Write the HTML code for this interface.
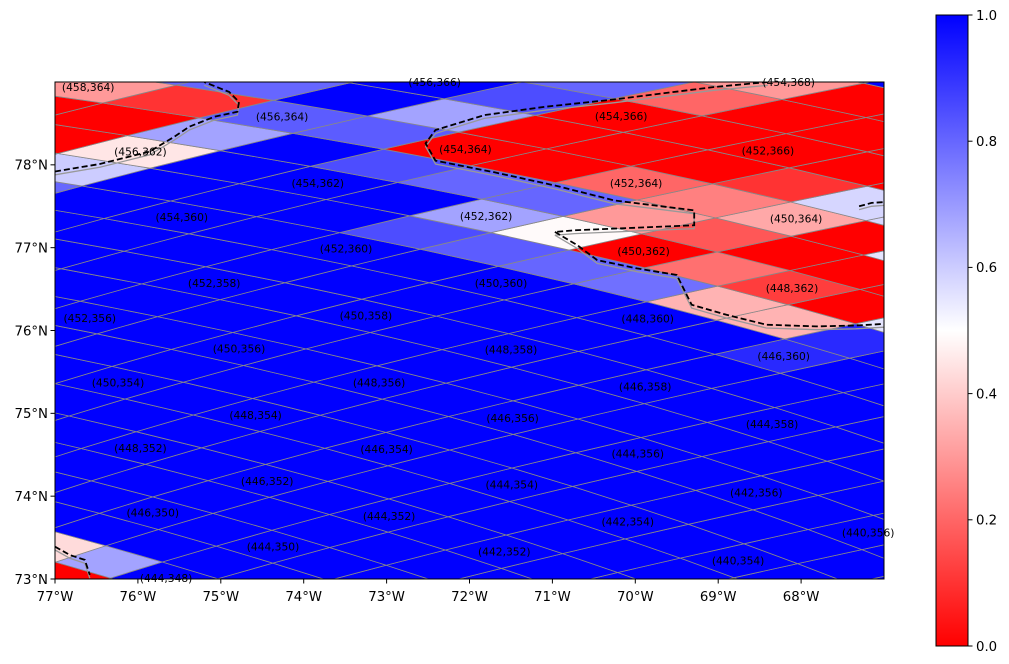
<!DOCTYPE html>
<html><head><meta charset="utf-8"><style>
html,body{margin:0;padding:0;background:#fff;overflow:hidden;width:1009px;height:664px;position:relative;}
svg{display:block;position:absolute;left:0;top:0;overflow:hidden;font-family:"DejaVu Sans","Liberation Sans",sans-serif;}
</style></head><body>
<svg id="chart" width="1009" height="664" viewBox="0 0 1009 664" xmlns="http://www.w3.org/2000/svg">
<defs>
<clipPath id="plotclip"><rect x="55" y="82" width="829" height="497"/></clipPath>
<linearGradient id="cbgrad" x1="0" y1="1" x2="0" y2="0">
<stop offset="0" stop-color="#ff0000"/><stop offset="0.5" stop-color="#ffffff"/><stop offset="1" stop-color="#0000ff"/>
</linearGradient>
</defs>
<g id="plot" clip-path="url(#plotclip)">
<rect x="55" y="82" width="829" height="497" fill="#0000ff"/>
<g id="cells"></g>
<g id="coast"></g>
</g>
<rect x="55" y="82" width="829" height="497" fill="none" stroke="#000" stroke-width="1"/>
<g id="labels"></g>
<g id="xaxis"></g>
<g id="yaxis"></g>
<g id="colorbar">
<rect x="936" y="15" width="32" height="631" fill="url(#cbgrad)" stroke="#000" stroke-width="1"/>
</g>
</svg>
<script>
// label cell indices and their centre coordinates (lon, lat)
const labI=[458,456,454,456,454,456,454,452,454,452,454,452,450,452,450,452,450,448,452,450,448,450,448,446,450,448,446,448,446,444,448,446,444,446,444,442,446,444,442,440,444,442,440,444];
const labJ=[364,366,368,364,366,362,364,366,362,364,360,362,364,360,362,358,360,362,356,358,360,356,358,360,354,356,358,354,356,358,352,354,356,352,354,356,350,352,354,356,350,352,354,348];
const labLon=[-76.60,-72.42,-68.15,-74.26,-70.17,-75.97,-72.05,-68.40,-73.83,-69.99,-75.47,-71.80,-68.06,-73.49,-69.90,-75.08,-71.62,-68.11,-76.58,-73.25,-69.85,-74.78,-71.50,-68.21,-76.24,-73.09,-69.88,-74.58,-71.48,-68.35,-75.97,-73.00,-69.97,-74.44,-71.49,-68.54,-75.82,-72.97,-70.09,-67.19,-74.37,-71.58,-68.76,-75.66];
const labLat=[78.94,79.00,79.00,78.58,78.59,78.16,78.19,78.17,77.78,77.78,77.37,77.38,77.35,76.99,76.96,76.57,76.57,76.51,76.15,76.18,76.14,75.78,75.77,75.69,75.37,75.37,75.32,74.98,74.94,74.87,74.58,74.57,74.51,74.18,74.14,74.04,73.80,73.76,73.69,73.56,73.39,73.33,73.22,73.01];
// non-default cell values (default 1.0)
const cellI=[454,453,452,451,455,456, 455,454,453,452,451,450,456, 456,455,454,453,452,451,450,449, 458,457,456,455,454,453,452,451,450,449,448, 459,458,457,456,455,454,453,452,451,450,449,448, 458,457,456,455,454,453,452,451,450,449,448,447, 458,457,456,455,454,453,452,451,450,449,448,447,446, 457,456,452,451,450,449,448,447,446,445, 456,446, 446,445,445,446];
const cellJ=[368,368,368,368,368,368, 367,367,367,367,367,367,367, 366,366,366,366,366,366,366,366, 365,365,365,365,365,365,365,365,365,365,365, 364,364,364,364,364,364,364,364,364,364,364,364, 363,363,363,363,363,363,363,363,363,363,363,363, 362,362,362,362,362,362,362,362,362,362,362,362,362, 361,361,361,361,361,361,361,361,361,361, 360,360, 348,348,347,347];
const cellVal=[0.3,0,0,0,0.85,1, 0.8,0.2,0,0,0,0,1, 1,0.85,0,0,0,0,0,0.58, 0.8,0.8,1,0.68,0,0,0,0.1,0.58,0.58,0, 0.3,0.3,0.1,0.82,0.82,0,0,0.2,0.25,0.33,0,0.55, 0,0,0.68,1,0.85,0.8,0.8,0.3,0.17,0,0,0, 0,0,0.45,1,1,1,0.68,0.49,0,0.22,0.12,0,0.55, 0.85,0.6,0.85,0.82,0.8,0.78,0.35,0.35,0.92,1, 0.8,0.92, 0.43,0.68,0,0];
const xTicks=[-77,-76,-75,-74,-73,-72,-71,-70,-69,-68];
const yTicks=[73,74,75,76,77,78];
const cbTicks=[0,0.2,0.4,0.6,0.8,1.0];
// boundary (dashed) lines as lon/lat
const borderLon1=[-77,-76.46,-75.86,-75.56,-75.38,-75.08,-74.80,-74.78,-74.90,-75.20];
const borderLat1=[77.92,78.01,78.16,78.34,78.46,78.58,78.64,78.76,78.88,79.0];
const borderLon2=[-68.4,-69.05,-69.77,-70.25,-71.09,-71.82,-72.41,-72.53,-72.41,-71.70,-70.97,-70.25,-69.77,-69.29,-69.29,-70.01,-70.73,-70.97];
const borderLat2=[79.0,78.94,78.85,78.79,78.70,78.60,78.42,78.26,78.05,77.91,77.75,77.57,77.51,77.45,77.27,77.24,77.21,77.19];
const borderLon3=[-70.97,-70.70,-70.46,-69.98,-69.50,-69.38,-69.32,-68.90,-68.42,-67.82,-67.34,-67.0];
const borderLat3=[77.19,77.03,76.85,76.75,76.67,76.43,76.31,76.19,76.07,76.05,76.06,76.08];
const borderLon4=[-77,-76.82,-76.64,-76.58];
const borderLat4=[73.39,73.29,73.23,73.05];
const borderLon5=[-67.3,-67.15,-67.0];
const borderLat5=[77.50,77.54,77.55];

const NS='http://www.w3.org/2000/svg';
const X0=55,X1=884,Y0=82,Y1=579,LON0=-77,LON1=-67,LAT0=73,LAT1=79;
function px(lon){return X0+(lon-LON0)/(LON1-LON0)*(X1-X0);}
function py(lat){return Y1-(lat-LAT0)/(LAT1-LAT0)*(Y1-Y0);}
function feats(u,v){return [1,u,v,u*u,u*v,v*v,u*u*u,u*u*v,u*v*v,v*v*v];}
function fit(vals){
  const n=10;const A=[];const b=[];
  for(let r=0;r<n;r++){A.push(new Array(n).fill(0));b.push(0);}
  for(let k=0;k<labI.length;k++){
    const f=feats((labI[k]-450)/6,(labJ[k]-360)/6);
    for(let r=0;r<n;r++){b[r]+=f[r]*vals[k];for(let c=0;c<n;c++)A[r][c]+=f[r]*f[c];}
  }
  for(let r=0;r<n;r++)A[r][r]+=1e-6;
  for(let c=0;c<n;c++){
    let p=c;for(let r=c+1;r<n;r++)if(Math.abs(A[r][c])>Math.abs(A[p][c]))p=r;
    [A[c],A[p]]=[A[p],A[c]];[b[c],b[p]]=[b[p],b[c]];
    for(let r=0;r<n;r++){if(r===c)continue;const m=A[r][c]/A[c][c];for(let k=c;k<n;k++)A[r][k]-=m*A[c][k];b[r]-=m*b[c];}
  }
  return b.map((x,i)=>x/A[i][i]);
}
const cLon=fit(labLon),cLat=fit(labLat);
function ev(c,i,j){const f=feats((i-450)/6,(j-360)/6);let s=0;for(let k=0;k<f.length;k++)s+=c[k]*f[k];return s;}
function P(i,j){return [px(ev(cLon,i,j)),py(ev(cLat,i,j))];}
function color(v){
  v=Math.max(0,Math.min(1,v));let r,g,b;
  if(v<0.5){r=255;g=b=Math.round(2*v*255);}else{b=255;r=g=Math.round(2*(1-v)*255);}
  return 'rgb('+r+','+g+','+b+')';
}
const valMap={};
for(let k=0;k<cellI.length;k++)valMap[cellI[k]+','+cellJ[k]]=cellVal[k];
const gc=document.getElementById('cells');
for(let i=434;i<=464;i++){for(let j=342;j<=374;j++){
  const v=(valMap[i+','+j]!==undefined)?valMap[i+','+j]:1.0;
  const pts=[P(i-0.5,j-0.5),P(i+0.5,j-0.5),P(i+0.5,j+0.5),P(i-0.5,j+0.5)];
  const xs=pts.map(p=>p[0]),ys=pts.map(p=>p[1]);
  if(Math.max(...xs)<X0||Math.min(...xs)>X1||Math.max(...ys)<Y0||Math.min(...ys)>Y1)continue;
  const poly=document.createElementNS(NS,'polygon');
  poly.setAttribute('points',pts.map(p=>p[0].toFixed(1)+','+p[1].toFixed(1)).join(' '));
  poly.setAttribute('fill',color(v));
  poly.setAttribute('stroke','#888');
  poly.setAttribute('stroke-width','0.8');
  
  
  gc.appendChild(poly);
}}
const gco=document.getElementById('coast');
function line(lons,lats,name,dash,col,w){
  const pl=document.createElementNS(NS,'polyline');
  pl.setAttribute('points',lons.map((l,k)=>px(l).toFixed(1)+','+py(lats[k]).toFixed(1)).join(' '));
  pl.setAttribute('fill','none');pl.setAttribute('stroke',col);pl.setAttribute('stroke-width',w);
  if(dash)pl.setAttribute('stroke-dasharray',dash);
  
  
  gco.appendChild(pl);
}
const bl=[[borderLon1,borderLat1],[borderLon2,borderLat2],[borderLon3,borderLat3],[borderLon4,borderLat4],[borderLon5,borderLat5]];
bl.forEach((b,k)=>{line(b[0],b[1].map(x=>x-0.04),'coastline-'+k,null,'#999',1.3);});
bl.forEach((b,k)=>{line(b[0],b[1],'boundary-line-'+k,'6,3','#000',1.8);});
const gl=document.getElementById('labels');
for(let k=0;k<labI.length;k++){
  const t=document.createElementNS(NS,'text');
  t.setAttribute('x',px(labLon[k]).toFixed(1));
  t.setAttribute('y',(py(labLat[k])+3.8).toFixed(1));
  t.setAttribute('text-anchor','middle');t.setAttribute('font-size','10.7');t.setAttribute('fill','#000');
  t.textContent='('+labI[k]+','+labJ[k]+')';
  
  
  gl.appendChild(t);
}
const gx=document.getElementById('xaxis');
xTicks.forEach(v=>{
  const x=px(v);
  const tk=document.createElementNS(NS,'line');
  tk.setAttribute('x1',x);tk.setAttribute('x2',x);tk.setAttribute('y1',579);tk.setAttribute('y2',583.5);tk.setAttribute('stroke','#000');
  
  
  gx.appendChild(tk);
  const t=document.createElementNS(NS,'text');
  t.setAttribute('x',x);t.setAttribute('y',601);t.setAttribute('text-anchor','middle');t.setAttribute('font-size','13.3');
  t.textContent=Math.abs(v)+'°W';
  
  
  gx.appendChild(t);
});
const gy=document.getElementById('yaxis');
yTicks.forEach(v=>{
  const y=py(v);
  const tk=document.createElementNS(NS,'line');
  tk.setAttribute('x1',50.5);tk.setAttribute('x2',55);tk.setAttribute('y1',y);tk.setAttribute('y2',y);tk.setAttribute('stroke','#000');
  
  
  gy.appendChild(tk);
  const t=document.createElementNS(NS,'text');
  t.setAttribute('x',48);t.setAttribute('y',y+4.8);t.setAttribute('text-anchor','end');t.setAttribute('font-size','13.3');
  t.textContent=v+'°N';
  
  
  gy.appendChild(t);
});
const gcb=document.getElementById('colorbar');
cbTicks.forEach(v=>{
  const y=646-v*631;
  const tk=document.createElementNS(NS,'line');
  tk.setAttribute('x1',968);tk.setAttribute('x2',972.5);tk.setAttribute('y1',y);tk.setAttribute('y2',y);tk.setAttribute('stroke','#000');
  
  
  gcb.appendChild(tk);
  const t=document.createElementNS(NS,'text');
  t.setAttribute('x',976);t.setAttribute('y',y+4.8);t.setAttribute('font-size','13.3');
  t.textContent=v.toFixed(1);
  
  
  gcb.appendChild(t);
});
</script>
</body></html>
